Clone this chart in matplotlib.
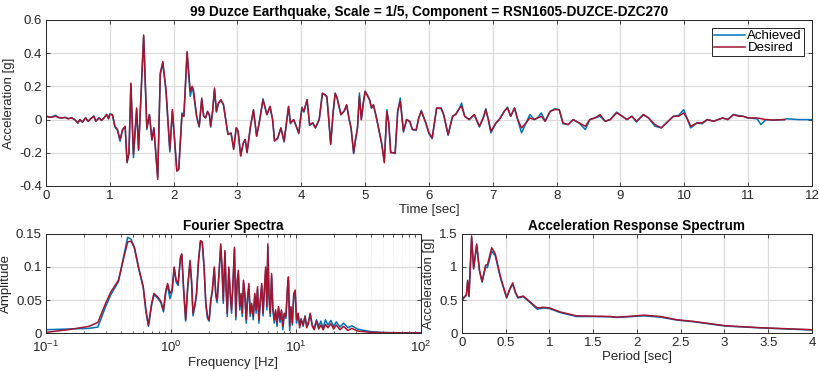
import matplotlib
matplotlib.use("Agg")
import matplotlib.pyplot as plt
from matplotlib.ticker import LogLocator, NullFormatter

plt.rcParams['font.family'] = ['Liberation Sans', 'DejaVu Sans']
plt.rcParams['mathtext.default'] = 'regular'
plt.rcParams['font.size'] = 9.5

# time history (desired)
t_des = [0.00, 0.05, 0.10, 0.15, 0.20, 0.25, 0.30, 0.35, 0.40, 0.45, 0.50, 0.53, 0.57, 0.62, 0.66, 0.70,
         0.75, 0.78, 0.83, 0.87, 0.91, 0.95, 0.98, 1.00, 1.04, 1.08, 1.12, 1.16, 1.20, 1.24, 1.27, 1.30,
         1.33, 1.37, 1.42, 1.45, 1.53, 1.58, 1.62, 1.66, 1.69, 1.75, 1.79, 1.83, 1.88, 1.94, 1.98, 2.01,
         2.05, 2.08, 2.13, 2.16, 2.21, 2.26, 2.29, 2.31, 2.36, 2.40, 2.44, 2.47, 2.50, 2.53, 2.56, 2.58,
         2.61, 2.64, 2.67, 2.70, 2.74, 2.78, 2.85, 2.90, 2.94, 2.98, 3.01, 3.05, 3.09, 3.12, 3.15, 3.20,
         3.25, 3.30, 3.34, 3.40, 3.46, 3.51, 3.55, 3.58, 3.63, 3.68, 3.73, 3.80, 3.83, 3.88, 3.91, 3.96,
         4.01, 4.04, 4.09, 4.13, 4.18, 4.22, 4.28, 4.33, 4.37, 4.40, 4.43, 4.46, 4.50, 4.53, 4.56, 4.62,
         4.67, 4.71, 4.75, 4.78, 4.82, 4.85, 4.88, 4.91, 4.94, 4.97, 5.00, 5.04, 5.07, 5.10, 5.13, 5.16,
         5.20, 5.26, 5.30, 5.34, 5.37, 5.40, 5.47, 5.51, 5.55, 5.60, 5.65, 5.70, 5.74, 5.80, 5.84, 5.88,
         5.95, 6.00, 6.05, 6.12, 6.19, 6.23, 6.30, 6.37, 6.42, 6.48, 6.51, 6.56, 6.63, 6.71, 6.79, 6.85,
         6.89, 6.93, 6.97, 7.05, 7.10, 7.18, 7.23, 7.28, 7.34, 7.39, 7.45, 7.52, 7.58, 7.65, 7.70, 7.76,
         7.82, 7.90, 7.97, 8.04, 8.10, 8.18, 8.26, 8.35, 8.45, 8.52, 8.60, 8.68, 8.76, 8.84, 8.94, 9.03,
         9.10, 9.18, 9.25, 9.36, 9.44, 9.54, 9.64, 9.72, 9.83, 9.91, 9.99, 10.04, 10.10, 10.20, 10.28, 10.36,
         10.46, 10.60, 10.68, 10.77, 10.85, 10.92, 11.00, 11.14, 11.28, 11.40, 11.57]
acc_des = [0.020, 0.015, 0.015, 0.020, 0.012, 0.010, 0.012, 0.005, 0.010, 0.000, -0.020, 0.000, -0.015, 0.010, -0.010, 0.005,
           0.020, -0.010, 0.010, -0.005, 0.010, 0.030, 0.005, 0.030, 0.030, -0.040, -0.060, -0.120, -0.060, -0.040, -0.260, -0.200,
           0.220, -0.210, 0.070, -0.180, 0.510, -0.050, 0.030, -0.120, -0.050, -0.360, 0.280, 0.350, 0.180, -0.180, 0.060, -0.100,
           -0.310, -0.300, 0.030, 0.020, 0.410, 0.170, 0.200, 0.180, 0.020, -0.040, 0.130, 0.020, 0.010, 0.050, 0.030, -0.040,
           0.050, 0.190, 0.050, 0.100, 0.120, 0.090, -0.090, -0.080, -0.180, -0.050, -0.070, -0.220, -0.140, -0.120, -0.200, -0.050,
           0.060, -0.100, -0.020, 0.120, 0.030, 0.080, 0.000, -0.130, -0.110, -0.050, -0.130, 0.080, -0.020, 0.000, -0.030, -0.080,
           0.070, 0.050, 0.120, -0.030, -0.020, -0.050, 0.000, 0.160, 0.150, 0.140, 0.000, -0.150, 0.050, 0.160, 0.130, 0.030,
           0.050, 0.090, 0.000, -0.050, -0.200, -0.120, -0.050, 0.140, 0.000, 0.100, 0.170, 0.140, 0.120, 0.070, 0.090, 0.040,
           -0.030, -0.150, -0.260, 0.050, -0.020, -0.200, -0.200, 0.050, 0.110, -0.070, 0.000, -0.010, -0.060, -0.060, 0.010, 0.050,
           -0.020, -0.080, -0.110, 0.070, 0.070, 0.030, -0.090, 0.020, 0.030, 0.070, 0.080, 0.020, 0.000, 0.030, -0.040, 0.010,
           0.060, 0.000, -0.070, -0.020, 0.000, 0.050, 0.070, 0.020, 0.070, 0.000, -0.050, -0.020, 0.010, 0.000, 0.010, 0.020,
           -0.010, 0.050, 0.060, 0.060, -0.020, -0.030, 0.000, -0.020, -0.040, 0.000, 0.010, 0.030, -0.010, 0.000, 0.040, 0.020,
           0.000, 0.020, -0.010, 0.030, 0.010, -0.030, -0.050, -0.020, 0.020, 0.020, 0.040, 0.010, -0.040, -0.020, -0.020, 0.000,
           -0.010, 0.010, 0.000, 0.030, 0.020, 0.020, 0.010, 0.010, 0.000, -0.003, 0.000]

# time history (achieved)
t_ach = [0.00, 0.05, 0.10, 0.15, 0.20, 0.25, 0.30, 0.35, 0.40, 0.45, 0.50, 0.53, 0.57, 0.62, 0.66, 0.70,
         0.75, 0.78, 0.83, 0.87, 0.91, 0.95, 0.98, 1.00, 1.04, 1.08, 1.12, 1.16, 1.20, 1.24, 1.27, 1.30,
         1.33, 1.37, 1.42, 1.45, 1.53, 1.58, 1.62, 1.66, 1.69, 1.75, 1.79, 1.83, 1.88, 1.94, 1.98, 2.01,
         2.05, 2.08, 2.13, 2.16, 2.21, 2.26, 2.29, 2.31, 2.36, 2.40, 2.44, 2.47, 2.50, 2.53, 2.56, 2.58,
         2.61, 2.64, 2.67, 2.70, 2.74, 2.78, 2.85, 2.90, 2.94, 2.98, 3.01, 3.05, 3.09, 3.12, 3.15, 3.20,
         3.25, 3.30, 3.34, 3.40, 3.46, 3.51, 3.55, 3.58, 3.63, 3.68, 3.73, 3.80, 3.83, 3.88, 3.91, 3.96,
         4.01, 4.04, 4.09, 4.13, 4.18, 4.22, 4.28, 4.33, 4.37, 4.40, 4.43, 4.46, 4.50, 4.53, 4.56, 4.62,
         4.67, 4.71, 4.75, 4.78, 4.82, 4.85, 4.88, 4.91, 4.94, 4.97, 5.00, 5.04, 5.07, 5.10, 5.13, 5.16,
         5.20, 5.26, 5.30, 5.34, 5.37, 5.40, 5.47, 5.51, 5.55, 5.60, 5.65, 5.70, 5.74, 5.80, 5.84, 5.88,
         5.95, 6.00, 6.05, 6.12, 6.19, 6.23, 6.30, 6.37, 6.42, 6.48, 6.51, 6.56, 6.63, 6.71, 6.79, 6.85,
         6.89, 6.93, 6.97, 7.05, 7.10, 7.18, 7.23, 7.28, 7.34, 7.39, 7.45, 7.52, 7.58, 7.65, 7.70, 7.76,
         7.82, 7.90, 7.97, 8.04, 8.10, 8.18, 8.26, 8.35, 8.45, 8.52, 8.60, 8.68, 8.76, 8.84, 8.94, 9.03,
         9.10, 9.18, 9.25, 9.36, 9.44, 9.54, 9.64, 9.72, 9.83, 9.91, 9.99, 10.04, 10.10, 10.20, 10.28, 10.36,
         10.46, 10.60, 10.68, 10.77, 10.85, 10.92, 11.00, 11.14, 11.20, 11.28, 11.40, 11.57, 11.60, 11.80, 12.00]
acc_ach = [0.022, 0.015, 0.018, 0.026, 0.012, 0.010, 0.014, 0.005, 0.012, 0.000, -0.022, 0.000, -0.016, 0.012, -0.012, 0.005,
           0.022, -0.010, 0.012, -0.005, 0.012, 0.032, 0.005, 0.035, 0.030, -0.045, -0.065, -0.130, -0.060, -0.045, -0.255, -0.200,
           0.210, -0.230, 0.060, -0.185, 0.500, -0.060, 0.030, -0.125, -0.050, -0.345, 0.270, 0.340, 0.170, -0.195, 0.050, -0.100,
           -0.310, -0.295, 0.040, 0.020, 0.400, 0.140, 0.195, 0.160, 0.015, -0.045, 0.120, 0.020, 0.010, 0.045, 0.025, -0.045,
           0.050, 0.180, 0.045, 0.095, 0.115, 0.090, -0.085, -0.085, -0.175, -0.050, -0.070, -0.215, -0.145, -0.120, -0.195, -0.050,
           0.055, -0.100, -0.020, 0.125, 0.030, 0.075, 0.000, -0.125, -0.115, -0.050, -0.135, 0.075, -0.025, 0.000, -0.030, -0.085,
           0.075, 0.045, 0.120, -0.035, -0.020, -0.050, 0.000, 0.155, 0.150, 0.135, 0.000, -0.145, 0.050, 0.155, 0.135, 0.030,
           0.050, 0.085, 0.000, -0.055, -0.205, -0.115, -0.050, 0.160, 0.000, 0.095, 0.170, 0.145, 0.115, 0.070, 0.085, 0.040,
           -0.035, -0.145, -0.250, 0.060, -0.020, -0.195, -0.205, 0.050, 0.130, -0.075, 0.000, -0.015, -0.060, -0.065, 0.010, 0.055,
           -0.020, -0.085, -0.115, 0.070, 0.065, 0.030, -0.095, 0.020, 0.035, 0.070, 0.100, 0.020, 0.000, 0.030, -0.045, 0.010,
           0.065, 0.000, -0.080, -0.020, 0.000, 0.050, 0.075, 0.020, 0.070, 0.000, -0.080, -0.020, 0.030, 0.000, 0.010, 0.040,
           -0.010, 0.050, 0.065, 0.060, -0.025, -0.030, 0.000, -0.020, -0.060, 0.000, 0.010, 0.020, -0.010, 0.000, 0.045, 0.020,
           0.000, 0.020, -0.015, 0.030, 0.010, -0.040, -0.050, -0.020, 0.020, 0.025, 0.060, 0.010, -0.050, -0.020, -0.025, 0.000,
           -0.010, 0.010, 0.000, 0.030, 0.025, 0.020, 0.010, 0.005, -0.030, 0.000, -0.003, 0.000, 0.005, 0.000, 0.000]

# Fourier amplitude spectra
f_des = [0.10, 0.15, 0.22, 0.26, 0.30, 0.33, 0.38, 0.42, 0.45, 0.48, 0.51, 0.55, 0.60, 0.63, 0.66, 0.70,
         0.73, 0.78, 0.83, 0.87, 0.91, 0.94, 0.98, 1.02, 1.06, 1.10, 1.14, 1.19, 1.22, 1.26, 1.31, 1.36,
         1.42, 1.46, 1.50, 1.56, 1.60, 1.66, 1.72, 1.78, 1.84, 1.90, 1.96, 2.02, 2.08, 2.14, 2.22, 2.28,
         2.34, 2.42, 2.50, 2.56, 2.62, 2.70, 2.76, 2.82, 2.90, 2.98, 3.05, 3.12, 3.22, 3.30, 3.38, 3.46,
         3.55, 3.64, 3.72, 3.80, 3.90, 4.00, 4.10, 4.20, 4.30, 4.42, 4.55, 4.68, 4.80, 4.92, 5.05, 5.18,
         5.32, 5.45, 5.58, 5.72, 5.85, 5.95, 6.08, 6.22, 6.38, 6.52, 6.70, 6.88, 7.05, 7.25, 7.45, 7.65,
         7.85, 8.05, 8.30, 8.55, 8.70, 8.90, 9.10, 9.35, 9.60, 9.85, 10.1, 10.4, 10.7, 11.0, 11.4, 11.8,
         12.2, 12.6, 13.0, 13.5, 14.0, 14.6, 15.2, 15.8, 16.5, 17.2, 18.0, 19.0, 20.0, 21.0, 22.5, 24.0,
         26.0, 28.0, 31.0, 35.0, 40.0, 50.0, 70.0, 100.0]
amp_des = [0.001, 0.005, 0.010, 0.016, 0.045, 0.062, 0.080, 0.115, 0.138, 0.139, 0.130, 0.100, 0.070, 0.035, 0.012, 0.045,
           0.060, 0.055, 0.048, 0.035, 0.065, 0.075, 0.060, 0.065, 0.100, 0.080, 0.075, 0.115, 0.120, 0.070, 0.020, 0.070,
           0.110, 0.080, 0.030, 0.045, 0.060, 0.110, 0.140, 0.138, 0.100, 0.045, 0.025, 0.020, 0.050, 0.065, 0.100, 0.060,
           0.050, 0.090, 0.135, 0.100, 0.050, 0.125, 0.070, 0.030, 0.100, 0.060, 0.035, 0.070, 0.130, 0.025, 0.080, 0.095,
           0.040, 0.060, 0.030, 0.080, 0.060, 0.020, 0.055, 0.075, 0.030, 0.045, 0.025, 0.060, 0.035, 0.070, 0.020, 0.050,
           0.075, 0.030, 0.065, 0.100, 0.040, 0.135, 0.060, 0.030, 0.090, 0.040, 0.020, 0.035, 0.015, 0.040, 0.020, 0.035,
           0.010, 0.030, 0.025, 0.070, 0.085, 0.010, 0.040, 0.015, 0.060, 0.065, 0.020, 0.030, 0.008, 0.020, 0.012, 0.025,
           0.008, 0.015, 0.030, 0.010, 0.005, 0.018, 0.006, 0.012, 0.005, 0.013, 0.008, 0.014, 0.006, 0.012, 0.005, 0.010,
           0.004, 0.007, 0.003, 0.002, 0.001, 0.0005, 0.0002, 0.0001]
f_ach = f_des
amp_ach = [0.005, 0.006, 0.007, 0.009, 0.040, 0.058, 0.078, 0.118, 0.145, 0.142, 0.128, 0.098, 0.068, 0.032, 0.010, 0.042,
           0.058, 0.053, 0.046, 0.032, 0.062, 0.072, 0.052, 0.062, 0.098, 0.077, 0.072, 0.112, 0.118, 0.066, 0.018, 0.068,
           0.108, 0.076, 0.026, 0.043, 0.058, 0.108, 0.138, 0.136, 0.098, 0.042, 0.022, 0.018, 0.047, 0.062, 0.098, 0.056,
           0.046, 0.088, 0.132, 0.096, 0.045, 0.122, 0.066, 0.025, 0.097, 0.056, 0.030, 0.066, 0.127, 0.020, 0.076, 0.090,
           0.035, 0.056, 0.025, 0.076, 0.055, 0.015, 0.052, 0.070, 0.025, 0.042, 0.020, 0.058, 0.030, 0.066, 0.015, 0.047,
           0.072, 0.026, 0.062, 0.096, 0.035, 0.130, 0.056, 0.025, 0.086, 0.036, 0.015, 0.032, 0.010, 0.038, 0.016, 0.033,
           0.005, 0.028, 0.022, 0.066, 0.080, 0.004, 0.038, 0.012, 0.058, 0.062, 0.015, 0.028, 0.012, 0.022, 0.010, 0.026,
           0.010, 0.018, 0.028, 0.012, 0.008, 0.020, 0.010, 0.018, 0.008, 0.020, 0.012, 0.019, 0.010, 0.017, 0.009, 0.015,
           0.008, 0.011, 0.006, 0.004, 0.002, 0.0008, 0.0003, 0.0002]

# acceleration response spectrum
T_des = [0.00, 0.027, 0.05, 0.065, 0.08, 0.11, 0.133, 0.168, 0.20, 0.23, 0.27, 0.29, 0.34, 0.38, 0.44, 0.51,
         0.55, 0.58, 0.61, 0.64, 0.70, 0.78, 0.86, 0.93, 1.00, 1.12, 1.31, 1.50, 1.70, 1.77, 1.89, 2.08,
         2.27, 2.46, 2.65, 3.01, 3.41, 4.00]
sa_des = [0.50, 0.55, 0.58, 0.80, 0.56, 1.47, 0.97, 1.35, 0.95, 0.78, 1.03, 1.03, 1.29, 1.20, 0.85, 0.54,
          0.68, 0.76, 0.62, 0.54, 0.56, 0.47, 0.38, 0.39, 0.38, 0.32, 0.26, 0.255, 0.25, 0.24, 0.25, 0.27,
          0.25, 0.20, 0.175, 0.11, 0.08, 0.05]
T_ach = T_des
sa_ach = [0.49, 0.54, 0.57, 0.78, 0.55, 1.44, 0.98, 1.33, 0.94, 0.77, 1.00, 0.99, 1.24, 1.17, 0.83, 0.53,
          0.67, 0.74, 0.61, 0.53, 0.55, 0.46, 0.36, 0.38, 0.37, 0.31, 0.25, 0.25, 0.245, 0.235, 0.245, 0.26,
          0.24, 0.195, 0.17, 0.105, 0.078, 0.045]

blue = '#0072BD'
red = '#A2142F'
axcol = '#262626'

fig = plt.figure(figsize=(8.2, 3.71), dpi=100)
ax1 = fig.add_axes([0.0561, 0.4987, 0.9341, 0.4474])
ax2 = fig.add_axes([0.0561, 0.1024, 0.4573, 0.2669])
ax3 = fig.add_axes([0.5634, 0.1024, 0.4268, 0.2669])


def style(ax):
    ax.tick_params(direction='in', top=True, right=True, length=3, width=0.6,
                   colors=axcol, labelsize=9.5, pad=3)
    ax.tick_params(which='minor', direction='in', top=True, right=True, length=1.8, width=0.5)
    for s in ax.spines.values():
        s.set_color(axcol)
        s.set_linewidth(0.7)
    ax.grid(True, color='#dcdcdc', linewidth=0.9)
    ax.set_axisbelow(True)


ax1.plot(t_ach, acc_ach, color=blue, lw=1.1, label='Achieved')
ax1.plot(t_des, acc_des, color=red, lw=1.1, label='Desired')
ax1.set_xlim(0, 12)
ax1.set_ylim(-0.4, 0.6)
ax1.set_xticks(range(0, 13))
ax1.set_yticks([-0.4, -0.2, 0, 0.2, 0.4, 0.6])
ax1.set_yticklabels(['-0.4', '-0.2', '0', '0.2', '0.4', '0.6'])
ax1.set_xlabel('Time [sec]', color=axcol, labelpad=1)
ax1.set_ylabel('Acceleration [g]', color=axcol, labelpad=3)
ax1.set_title('99 Duzce Earthquake, Scale = 1/5, Component = RSN1605-DUZCE-DZC270',
              fontweight='bold', fontsize=9.8, pad=3)
style(ax1)
leg = ax1.legend(loc='upper right', fontsize=9.5, fancybox=False, framealpha=1,
                 edgecolor=axcol, borderpad=0.15, handlelength=2.3, handletextpad=0.2,
                 labelspacing=0.0, borderaxespad=0.6)
leg.get_frame().set_linewidth(0.7)

ax2.plot(f_ach, amp_ach, color=blue, lw=1.1)
ax2.plot(f_des, amp_des, color=red, lw=1.1)
ax2.set_xscale('log')
ax2.set_xlim(0.1, 100)
ax2.set_ylim(0, 0.15)
ax2.set_yticks([0, 0.05, 0.1, 0.15])
ax2.set_yticklabels(['0', '0.05', '0.1', '0.15'])
ax2.xaxis.set_minor_locator(LogLocator(base=10, subs=range(2, 10)))
ax2.xaxis.set_minor_formatter(NullFormatter())
ax2.set_xlabel('Frequency [Hz]', color=axcol, labelpad=1)
ax2.set_ylabel('Amplitude', color=axcol, labelpad=3)
ax2.set_title('Fourier Spectra', fontweight='bold', fontsize=9.8, pad=3)
style(ax2)
ax2.tick_params(axis='x', pad=5)
ax2.grid(True, which='minor', axis='x', color='#e6e6e6', linewidth=0.6, linestyle=':')

ax3.plot(T_ach, sa_ach, color=blue, lw=1.1)
ax3.plot(T_des, sa_des, color=red, lw=1.1)
ax3.set_xlim(0, 4)
ax3.set_ylim(0, 1.5)
ax3.set_xticks([0, 0.5, 1, 1.5, 2, 2.5, 3, 3.5, 4])
ax3.set_xticklabels(['0', '0.5', '1', '1.5', '2', '2.5', '3', '3.5', '4'])
ax3.set_yticks([0, 0.5, 1, 1.5])
ax3.set_yticklabels(['0', '0.5', '1', '1.5'])
ax3.set_xlabel('Period [sec]', color=axcol, labelpad=1)
ax3.set_ylabel('Acceleration [g]', color=axcol, labelpad=3)
ax3.set_title('Acceleration Response Spectrum', fontweight='bold', fontsize=9.8, pad=3)
style(ax3)

fig.savefig('out.png', dpi=100)
